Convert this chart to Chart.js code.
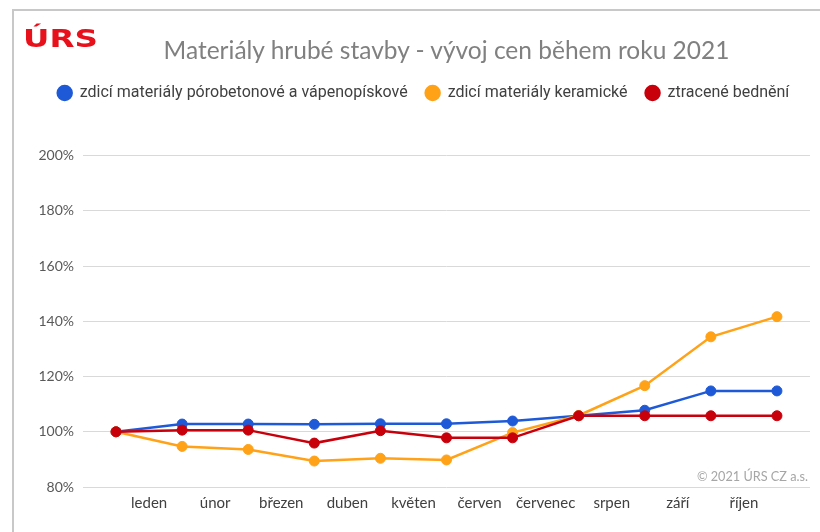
<!DOCTYPE html>
<html>
<head>
<meta charset="utf-8">
<script src="https://cdn.jsdelivr.net/npm/chart.js@4.4.1/dist/chart.umd.min.js"></script>
<style>
  body { margin: 0; background: #fff; overflow: hidden; }
  #wrap { position: relative; width: 820px; height: 532px; }
  #frame { position: absolute; left: 12px; top: 9px; right: -5px; bottom: -5px;
           border-left: 2px solid #c8c8c8; border-top: 2px solid #c8c8c8; }
  #logo { position: absolute; left: 23px; top: 26px; font: bold 25px "DejaVu Sans";
          line-height: 1; color: #e8101a; transform: scaleX(1.3); transform-origin: left top; }
  #title { position: absolute; left: 0; width: 893px; top: 37.6px; text-align: center;
           font: 24.5px Lato; line-height: 1; color: #808080; }
  #copy { position: absolute; right: 12px; top: 469.7px; font: 12.7px Lato;
          line-height: 1; color: #a6a6a6; }
</style>
</head>
<body>
<div id="wrap">
  <canvas id="chart" width="820" height="532"></canvas>
  <div id="frame"></div>
  <div id="logo">ÚRS</div>
  <div id="title">Materiály hrubé stavby - vývoj cen během roku 2021</div>
  <div id="copy">© 2021 ÚRS CZ a.s.</div>
</div>
<script>
// months sit between the measured points (11 points incl. start of year)
const months = ['leden', 'únor', 'březen', 'duben', 'květen', 'červen', 'červenec', 'srpen', 'září', 'říjen'];
const pointIdx = [0, 1, 2, 3, 4, 5, 6, 7, 8, 9, 10];

const porobeton = [100, 102.8, 102.8, 102.7, 102.9, 102.9, 103.9, 105.8, 107.8, 114.8, 114.8];
const keramicke = [100, 94.7, 93.6, 89.4, 90.4, 89.8, 99.7, 105.9, 116.7, 134.4, 141.7];
const bedneni   = [100, 100.6, 100.6, 95.9, 100.4, 97.8, 97.8, 105.8, 105.8, 105.8, 105.8];

const yTicks = [80, 100, 120, 140, 160, 180, 200];

function series(label, values, color, order) {
    return {
        label: label,
        data: pointIdx.map((x, i) => ({ x: x, y: values[i] })),
        borderColor: color,
        backgroundColor: color,
        borderWidth: 2.5,
        pointRadius: 5,
        pointHoverRadius: 5,
        pointBorderWidth: 1,
        order: order
    };
}

// extra room between legend and plot
const legendGap = {
    id: 'legendGap',
    beforeInit(chart) {
        const fit = chart.legend.fit;
        chart.legend.fit = function () {
            fit.call(this);
            this.height += 44.7;
        };
    }
};

const ctx = document.getElementById('chart').getContext('2d');
const chart = new Chart(ctx, {
    type: 'line',
    data: {
        datasets: [
            series('zdicí materiály pórobetonové a vápenopískové', porobeton, '#1e5ad7', 3),
            series('zdicí materiály keramické', keramicke, '#ffa218', 2),
            series('ztracené bednění', bedneni, '#c8000c', 1)
        ]
    },
    plugins: [legendGap],
    options: {
        responsive: false,
        animation: false,
        layout: { padding: { top: 67, left: 37, right: 10, bottom: 20 } },
        plugins: {
            tooltip: { enabled: false },
            title: { display: false },
            legend: {
                position: 'top',
                reverse: true,
                labels: {
                    font: { family: 'Roboto', size: 16 },
                    color: '#404040',
                    boxWidth: 14,
                    boxHeight: 14,
                    useBorderRadius: true,
                    borderRadius: 7,
                    padding: 18
                }
            }
        },
        scales: {
            x: {
                type: 'linear',
                min: -0.5,
                max: 10.5,
                afterFit(scale) { scale.height = 25; },
                grid: { display: false, drawTicks: false },
                border: { display: false },
                afterBuildTicks(scale) {
                    scale.ticks = months.map((m, i) => ({ value: i + 0.5 }));
                },
                ticks: {
                    autoSkip: false,
                    maxRotation: 0,
                    padding: 7,
                    color: '#404040',
                    font: { family: 'Lato', size: 15 },
                    callback: (v, i) => months[i]
                }
            },
            y: {
                min: 80,
                max: 200,
                afterFit(scale) { scale.width = 46; },
                afterBuildTicks(scale) {
                    scale.ticks = yTicks.map(v => ({ value: v }));
                },
                grid: { color: '#d9d9d9', lineWidth: 1, drawTicks: false },
                border: { display: false },
                ticks: {
                    padding: 9,
                    color: '#595959',
                    font: { family: 'Lato', size: 14 },
                    callback: v => v + '%'
                }
            }
        }
    }
});
</script>
</body>
</html>
